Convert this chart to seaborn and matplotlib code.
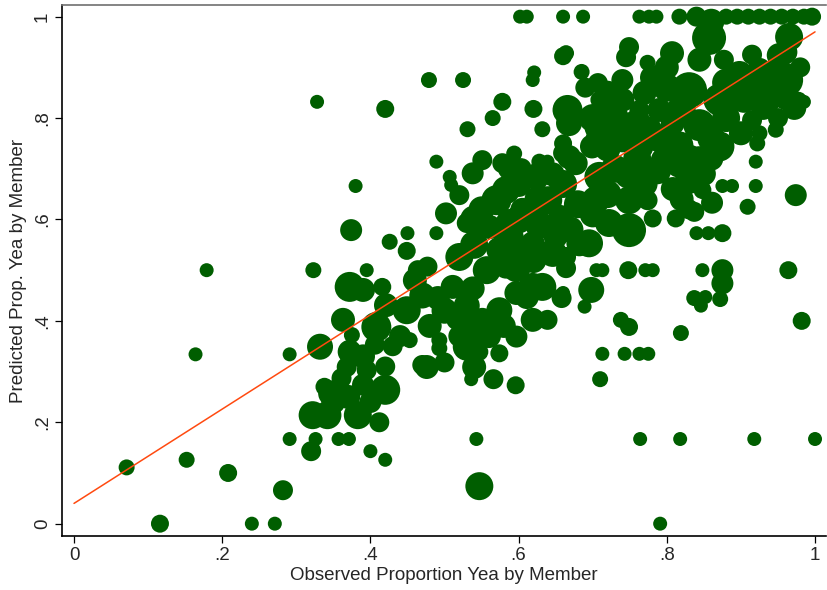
import numpy as np
import pandas as pd
import matplotlib
matplotlib.use("Agg")
import matplotlib.pyplot as plt
import seaborn as sns

# observed proportion, predicted proportion, marker radius class (weight ~ r^2)
pts = [
(0.071,0.111,8),(0.116,0.0,9),(0.152,0.126,8),(0.164,0.334,7),(0.179,0.5,7),(0.208,0.1,9),
(0.24,0.0,7),(0.271,0.0,7),(0.282,0.066,10),(0.291,0.167,7),(0.291,0.334,7),(0.328,0.832,7),
(0.323,0.5,8),(0.38,0.666,7),(0.374,0.579,11),(0.42,0.818,9),(0.479,0.875,8),(0.525,0.875,8),
(0.32,0.143,10),(0.326,0.167,7),(0.322,0.214,14),(0.342,0.214,14),(0.347,0.257,13),(0.338,0.27,9),
(0.357,0.167,7),(0.371,0.167,7),(0.383,0.214,14),(0.412,0.2,10),(0.39,0.274,11),(0.42,0.264,15),
(0.361,0.287,10),(0.4,0.143,7),(0.42,0.126,7),(0.368,0.309,10),(0.395,0.303,10),(0.332,0.349,13),
(0.372,0.339,12),(0.363,0.402,12),(0.375,0.372,8),(0.406,0.353,10),(0.408,0.388,15),(0.421,0.431,12),
(0.449,0.421,14),(0.372,0.467,15),(0.39,0.461,12),(0.395,0.5,7),(0.416,0.467,9),(0.47,0.313,10),
(0.476,0.309,12),(0.5,0.318,10),(0.54,0.309,12),(0.536,0.285,7),(0.566,0.285,10),(0.596,0.273,9),
(0.543,0.167,7),(0.547,0.074,14),(0.453,0.362,8),(0.493,0.362,8),(0.493,0.346,8),(0.516,0.402,10),
(0.538,0.388,14),(0.53,0.349,14),(0.547,0.339,9),(0.574,0.336,9),(0.574,0.421,13),(0.597,0.369,11),
(0.551,0.402,12),(0.619,0.402,12),(0.639,0.402,10),
(0.426,0.556,8),(0.45,0.573,7),(0.449,0.538,9),(0.464,0.5,10),(0.477,0.507,10),(0.491,0.445,12),
(0.511,0.467,12),(0.538,0.464,12),(0.611,0.447,12),(0.632,0.467,14),(0.619,0.467,14),(0.597,0.455,12),
(0.658,0.445,10),(0.66,0.455,7),(0.52,0.526,14),(0.557,0.5,14),(0.597,0.504,14),(0.583,0.507,12),
(0.574,0.54,13),(0.615,0.54,13),(0.646,0.534,14),(0.664,0.526,10),(0.664,0.504,10),(0.502,0.612,11),
(0.53,0.593,10),(0.561,0.585,12),(0.584,0.566,12),(0.592,0.566,11),(0.489,0.573,7),(0.52,0.648,10),
(0.509,0.668,7),(0.628,0.638,15),(0.57,0.638,15),(0.583,0.658,14),(0.588,0.593,14),(0.605,0.619,12),
(0.619,0.553,12),(0.588,0.546,12),(0.628,0.589,14),(0.65,0.566,12),(0.682,0.553,13),(0.656,0.605,12),
(0.64,0.638,14),(0.624,0.684,13),(0.601,0.701,10),
(0.489,0.714,7),(0.507,0.684,7),(0.551,0.717,10),(0.538,0.691,11),(0.578,0.711,10),(0.594,0.73,8),
(0.588,0.701,12),(0.604,0.701,10),(0.628,0.714,8),(0.639,0.714,7),(0.628,0.691,12),(0.646,0.689,12),
(0.66,0.731,10),(0.66,0.75,9),(0.531,0.778,8),(0.632,0.778,8),(0.565,0.8,8),(0.578,0.832,9),
(0.62,0.818,9),(0.619,0.875,7),(0.621,0.89,7),(0.66,0.922,9),(0.602,1.0,7),(0.611,1.0,7),
(0.66,1.0,7),(0.687,1.0,7),(0.666,0.816,15),(0.668,0.79,13),(0.709,0.836,9),(0.707,0.869,10),
(0.685,0.891,8),(0.664,0.928,8),(0.74,0.836,12),(0.74,0.875,11),(0.709,0.783,15),(0.699,0.744,12),
(0.668,0.723,12),(0.677,0.711,12),(0.709,0.757,14),(0.763,0.744,14),(0.808,0.79,12),(0.817,0.746,14),
(0.796,0.717,13),(0.776,0.777,13),(0.79,0.816,12),(0.763,0.816,10),(0.722,0.816,10),(0.709,0.684,15),
(0.749,0.69,15),(0.787,0.697,14),(0.817,0.71,14),(0.808,0.66,12),(0.749,0.638,14),(0.704,0.638,14),
(0.722,0.593,14),(0.749,0.579,17),(0.774,0.638,10),(0.781,0.602,9),(0.812,0.602,9),(0.83,0.62,10),
(0.837,0.615,10),(0.84,0.573,7),(0.856,0.573,7),(0.875,0.573,9),(0.861,0.633,11),(0.848,0.658,9),
(0.83,0.678,14),(0.875,0.666,7),(0.888,0.666,7),(0.92,0.666,7),(0.909,0.625,8),(0.974,0.648,11),
(0.695,0.553,14),
(0.749,0.94,10),(0.745,0.92,10),(0.774,0.909,8),(0.807,0.928,12),(0.763,1.0,7),(0.776,1.0,7),
(0.786,1.0,7),(0.817,1.0,8),(0.84,1.0,10),(0.86,0.99,13),(0.88,1.0,8),(0.895,1.0,8),(0.91,1.0,8),
(0.925,1.0,8),(0.94,1.0,8),(0.955,1.0,8),(0.97,1.0,8),(0.985,1.0,8),(0.996,1.0,9),(0.857,0.958,17),
(0.965,0.96,14),(0.961,0.875,17),(0.972,0.82,12),(0.985,0.832,7),(0.947,0.777,8),(0.922,0.75,8),
(0.92,0.714,7),(0.925,0.77,8),(0.915,0.796,10),(0.871,0.744,15),(0.844,0.711,17),(0.83,0.855,18),
(0.871,0.836,16),(0.844,0.786,16),(0.898,0.885,14),(0.925,0.895,12),(0.904,0.836,13),(0.938,0.836,12),
(0.915,0.925,10),(0.951,0.924,12),(0.844,0.915,12),(0.877,0.915,10),(0.978,0.836,8),(0.938,0.86,10),
(0.875,0.5,11),(0.875,0.474,11),(0.872,0.443,8),(0.837,0.445,8),(0.846,0.43,7),(0.852,0.447,7),
(0.848,0.5,7),(0.964,0.5,9),(0.982,0.4,9),(0.748,0.5,9),(0.771,0.5,7),(0.781,0.5,7),(0.705,0.5,7),
(0.713,0.5,7),(0.698,0.461,13),(0.689,0.428,7),(0.738,0.402,8),(0.749,0.388,9),(0.819,0.376,8),
(0.713,0.335,7),(0.743,0.335,7),(0.763,0.335,7),(0.775,0.335,7),(0.71,0.285,8),(0.764,0.167,7),
(0.818,0.167,7),(0.918,0.167,7),(1.0,0.167,7),(0.791,0.0,7),
# dense interior of the cloud
(0.47,0.45,13),(0.5,0.42,13),(0.46,0.48,12),(0.53,0.43,13),(0.48,0.39,12),(0.44,0.37,11),
(0.52,0.37,11),(0.56,0.37,12),(0.58,0.39,12),
(0.54,0.55,14),(0.54,0.6,14),(0.6,0.6,14),(0.62,0.52,13),(0.55,0.62,13),(0.6,0.67,13),
(0.66,0.67,14),(0.68,0.63,14),(0.67,0.58,13),(0.72,0.65,14),(0.7,0.61,13),(0.73,0.7,14),
(0.76,0.72,14),(0.74,0.76,14),(0.77,0.67,13),(0.72,0.74,13),
(0.7,0.8,14),(0.73,0.8,14),(0.76,0.79,14),(0.79,0.76,14),(0.77,0.85,12),(0.8,0.86,14),
(0.8,0.9,12),(0.78,0.88,12),(0.72,0.85,12),(0.69,0.86,10),(0.82,0.82,14),
(0.88,0.8,14),(0.9,0.77,12),(0.86,0.76,14),(0.88,0.87,14),(0.9,0.86,14),(0.92,0.86,14),
(0.94,0.88,14),(0.95,0.9,12),(0.93,0.82,12),(0.96,0.84,12),(0.96,0.93,12),(0.98,0.9,10),
(0.95,0.8,10),(0.83,0.72,14),(0.85,0.69,12),(0.86,0.72,12),(0.82,0.64,12),
(0.39,0.33,12),(0.43,0.35,10),(0.42,0.31,10),(0.37,0.25,12),(0.4,0.24,11),(0.35,0.24,12),
]
observed = [p[0] for p in pts]
predicted = [p[1] for p in pts]
weight = [p[2] ** 2 for p in pts]

fit_x = [0.0, 1.0]
fit_y = [0.04, 0.97]

xticks = [0, 0.2, 0.4, 0.6, 0.8, 1.0]
xticklabels = ["0", ".2", ".4", ".6", ".8", "1"]
yticks = [0, 0.2, 0.4, 0.6, 0.8, 1.0]
yticklabels = ["0", ".2", ".4", ".6", ".8", "1"]

sns.set_style("white")
plt.rcParams['font.family'] = ['Liberation Sans', 'DejaVu Sans']

df = pd.DataFrame({"obs": observed, "pred": predicted, "w": weight})

fig = plt.figure(figsize=(8.27, 5.90), dpi=100)
ax = fig.add_axes([62/827, 1 - 536/590, (826 - 62)/827, (536 - 5)/590])

wmin, wmax = min(weight), max(weight)
k = 2.07  # px radius^2 -> pt^2 area
green = "#005e00"
sns.scatterplot(data=df, x="obs", y="pred", size="w", sizes=(k*wmin, k*wmax),
                size_norm=(wmin, wmax), color=green, edgecolor=green, linewidth=0,
                alpha=1, legend=False, ax=ax, zorder=2)
sns.lineplot(x=fit_x, y=fit_y, color="#ff4a10", linewidth=1.1, ax=ax, zorder=3)

ax.set_xlim(-0.0162, 1.0148)
ax.set_ylim(-0.0243, 1.023)
ax.set_xticks(xticks)
ax.set_xticklabels(xticklabels)
ax.set_yticks(yticks)
ax.set_yticklabels(yticklabels, rotation=90, va="center")
ax.tick_params(axis="both", direction="out", length=5, width=0.9, color="black",
               labelsize=13.5, pad=3, bottom=True, left=True)
ax.set_xlabel("Observed Proportion Yea by Member", fontsize=13.5, labelpad=2)
ax.set_ylabel("Predicted Prop. Yea by Member", fontsize=13.5, labelpad=5)

for s in ["left", "bottom"]:
    ax.spines[s].set_color("black")
    ax.spines[s].set_linewidth(1.2)
ax.spines["top"].set_color("#707070")
ax.spines["top"].set_linewidth(1.2)
ax.spines["right"].set_visible(False)
ax.grid(False)

fig.savefig("out.png", dpi=100)
